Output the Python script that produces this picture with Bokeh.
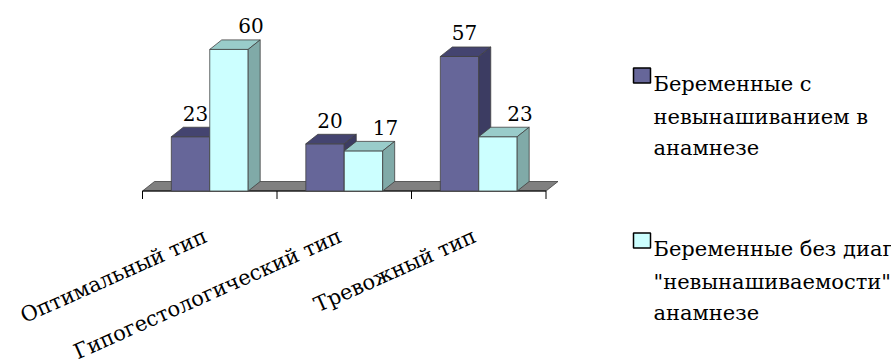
import numpy as np
from bokeh.plotting import figure
from bokeh.models import Range1d
from bokeh.core.properties import value
from bokeh.embed import file_html
from bokeh.resources import INLINE

# ---- data ----
categories = ["Оптимальный тип", "Гипогестологический тип", "Тревожный тип"]
with_miscarriage = [23, 20, 57]
without_diagnosis = [60, 17, 23]
legend_lines_1 = ["Беременные с", "невынашиванием в", "анамнезе"]
legend_lines_2 = ["Беременные без диагноза", "\"невынашиваемости\" в", "анамнезе"]

# ---- layout (pixels) ----
W, H = 891, 360
PX_X = 134.5      # pixels per category
PX_Y = 2.36       # pixels per value unit
X0_PX = 142.0     # left end of category axis
BASE_PX = 190.5   # baseline (from top)
FONT = value("DejaVu Serif")

def px2x(px):
    return (px - X0_PX) / PX_X

def px2y(py):
    return (BASE_PX - py) / PX_Y

p = figure(width=W, height=H,
           x_range=Range1d(px2x(0), px2x(W)),
           y_range=Range1d(px2y(H), px2y(0)),
           x_axis_type=None, y_axis_type=None,
           toolbar_location=None, output_backend="svg",
           min_border=0, outline_line_color=None,
           background_fill_color="white", border_fill_color="white")

DX = 12 / PX_X
DY = 9.5 / PX_Y
n = len(categories)
bw = 1 / 3.5

# floor
p.patches(xs=[[0, n, n + DX, DX]], ys=[[0, 0, DY, DY]],
          fill_color="#808080", line_color="#404040", line_width=0.8)

# axis line and ticks
p.segment(x0=[0], y0=[0], x1=[n], y1=[0], line_color="black", line_width=1)
ticks = list(range(n + 1))
p.segment(x0=ticks, y0=[0] * len(ticks), x1=ticks, y1=[-8 / PX_Y] * len(ticks),
          line_color="black", line_width=1)

series = [
    (with_miscarriage, -0.5, "#666699", "#444470", "#3c3c62", 5),
    (without_diagnosis, 0.5, "#CCFFFF", "#99CCCA", "#80AAA8", 22),
]

for vals, shift, c_front, c_top, c_side, lab_off in series:
    centers = [i + 0.5 + shift * bw for i in range(n)]
    p.vbar(x=centers, top=vals, bottom=0, width=bw,
           fill_color=c_front, line_color="#404040", line_width=0.8)
    top_xs, top_ys, side_xs, side_ys = [], [], [], []
    for c, v in zip(centers, vals):
        l, r = c - bw / 2, c + bw / 2
        top_xs.append([l, r, r + DX, l + DX])
        top_ys.append([v, v, v + DY, v + DY])
        side_xs.append([r, r + DX, r + DX, r])
        side_ys.append([0, DY, v + DY, v])
    p.patches(xs=top_xs, ys=top_ys, fill_color=c_top, line_color="#404040", line_width=0.8)
    p.patches(xs=side_xs, ys=side_ys, fill_color=c_side, line_color="#404040", line_width=0.8)
    p.text(x=[c + lab_off / PX_X for c in centers],
           y=[v + DY + 14 / PX_Y for v in vals],
           text=[str(v) for v in vals],
           text_align="center", text_baseline="alphabetic",
           text_font=FONT, text_font_size="20px", text_color="black")

# category labels (rotated, right end of baseline under the category centre)
p.text(x=[i + 0.5 - 4 / PX_X for i in range(n)], y=[-44 / PX_Y] * n, text=categories,
       angle=24, angle_units="deg", text_align="right", text_baseline="alphabetic",
       text_font=FONT, text_font_size="21px", text_color="black")

# legend
sq_w, sq_h = 17 / PX_X, 15 / PX_Y
p.rect(x=[px2x(641.5), px2x(641.5)], y=[px2y(75), px2y(240)],
       width=sq_w, height=sq_h,
       fill_color=["#666699", "#CCFFFF"], line_color="black", line_width=1.5)
leg_text = legend_lines_1 + legend_lines_2
leg_base = [83, 116, 147, 248, 281, 312]
p.text(x=[px2x(653)] * len(leg_text), y=[px2y(b) for b in leg_base], text=leg_text,
       text_align="left", text_baseline="alphabetic",
       text_font=FONT, text_font_size="21px", text_color="black")

open("out.html", "w").write(file_html(p, INLINE))
